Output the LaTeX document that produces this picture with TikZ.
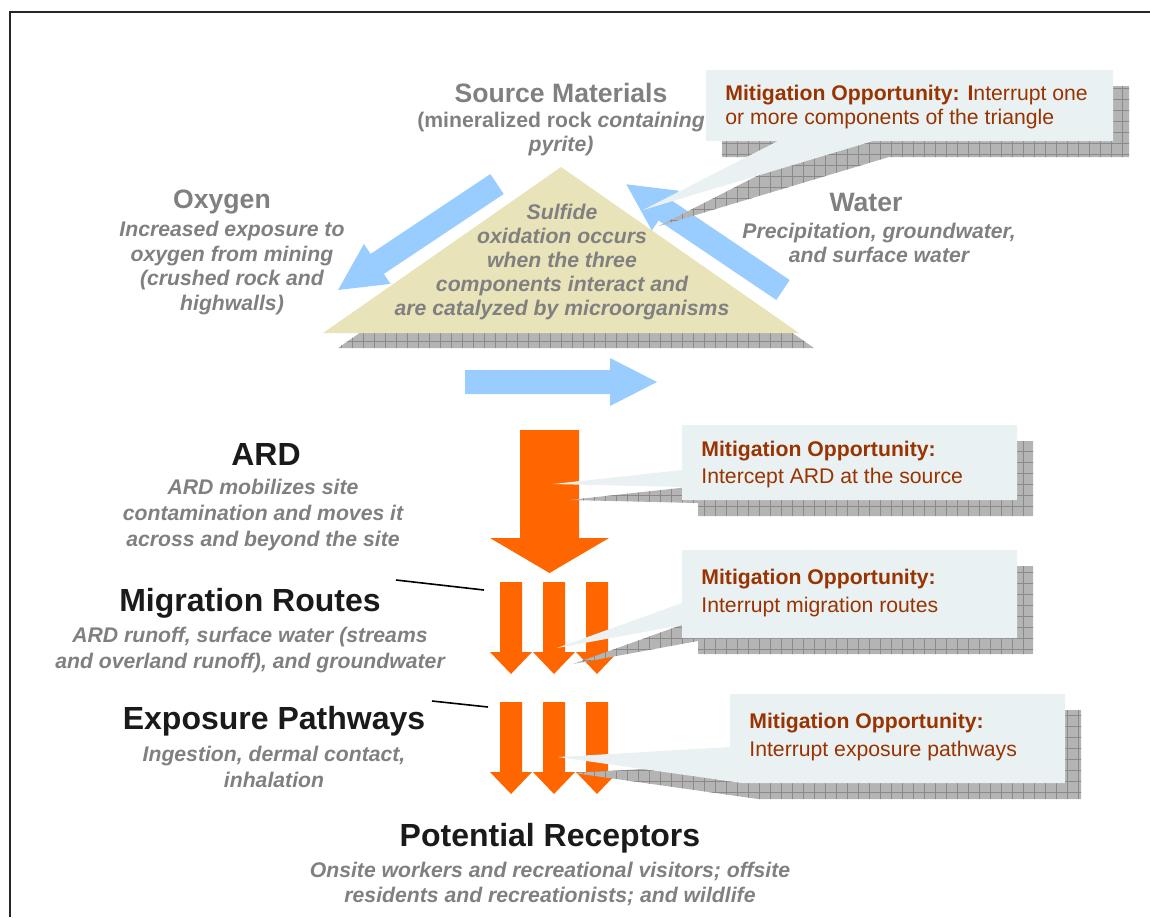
\documentclass[tikz,border=0pt]{standalone}
\usepackage{fontspec}
\setmainfont{Liberation Sans}
\usepackage{xcolor}
\usepackage{tikz}

\definecolor{greytext}{HTML}{808080}
\definecolor{darktext}{HTML}{1A1A1A}
\definecolor{mitbrown}{HTML}{993300}
\definecolor{calloutfill}{HTML}{EAF1F3}
\definecolor{trifill}{HTML}{E9E3BA}
\definecolor{ardorange}{HTML}{FF6600}
\definecolor{arrowblue}{HTML}{99CCFF}
\definecolor{shadowfill}{HTML}{B4B4B4}
\definecolor{shadowline}{HTML}{8A8A8A}

\tikzset{
    heading/.style = {inner sep=0, font=\bfseries\fontsize{13.3}{15}\selectfont, text=greytext},
    bigheading/.style = {inner sep=0, font=\bfseries\fontsize{16}{19}\selectfont, text=darktext},
    subtext/.style = {inner sep=0, align=center, text=greytext,
        font=\bfseries\itshape\fontsize{10.6}{12.4}\selectfont},
    mittext/.style = {inner sep=0, align=left, anchor=west, text=mitbrown,
        font=\fontsize{10.6}{13.5}\selectfont}
}

% grey grid shadow under a shape
\newcommand{\gridshadow}[1]{%
    \begin{scope}
        \clip #1;
        \fill[shadowfill] (0,917) rectangle (1150,0);
        \draw[shadowline, line width=0.3pt, step=5.5pt] (0,917) grid (1150,0);
    \end{scope}}

\begin{document}
\begin{tikzpicture}[x=0.5pt, y=-0.5pt]
        \useasboundingbox (0,0) rectangle (1150,917);
        \draw[line width=1pt, black!85] (10,917) -- (10,12) -- (1150,12);

        % triangle
        \gridshadow{[shift={(15,15)}] (323,333) -- (561,167) -- (799,333) -- cycle}
        \fill[trifill] (323,333) -- (561,167) -- (799,333) -- cycle;

        % blue arrows
        \begin{scope}[shift={(497,184)}, rotate=213.7]
            \fill[arrowblue] (0,-12) -- (144,-12) -- (144,-24) -- (191,0)
                -- (144,24) -- (144,12) -- (0,12) -- cycle;
        \end{scope}
        \begin{scope}[shift={(783,290)}, rotate=146]
            \fill[arrowblue] (0,-12) -- (142,-12) -- (142,-24) -- (189,0)
                -- (142,24) -- (142,12) -- (0,12) -- cycle;
        \end{scope}
        \fill[arrowblue] (465,370) -- (610,370) -- (610,358) -- (657,382)
            -- (610,406) -- (610,394) -- (465,394) -- cycle;

        % orange arrows
        \fill[ardorange] (520,430) -- (579,430) -- (579,538) -- (609,538)
            -- (549.5,573) -- (490,538) -- (520,538) -- cycle;
        \foreach \cx in {511,554,597} {
            \fill[ardorange] (\cx-11,582) -- (\cx+11,582) -- (\cx+11,652) -- (\cx+21,652)
                -- (\cx,674) -- (\cx-21,652) -- (\cx-11,652) -- cycle;
            \fill[ardorange] (\cx-11,702) -- (\cx+11,702) -- (\cx+11,772) -- (\cx+21,772)
                -- (\cx,794) -- (\cx-21,772) -- (\cx-11,772) -- cycle;
        }

        % callouts
        \gridshadow{[shift={(16,16)}] (706,70) -- (1113,70) -- (1113,141) -- (873,141)
            -- (643,210) -- (778,141) -- (706,141) -- cycle}
        \fill[calloutfill] (706,70) -- (1113,70) -- (1113,141) -- (873,141)
            -- (643,210) -- (778,141) -- (706,141) -- cycle;

        \gridshadow{[shift={(16,16)}] (682,425) -- (1017,425) -- (1017,500) -- (682,500)
            -- (682,487) -- (553,484) -- (682,470) -- cycle}
        \fill[calloutfill] (682,425) -- (1017,425) -- (1017,500) -- (682,500)
            -- (682,487) -- (553,484) -- (682,470) -- cycle;

        \gridshadow{[shift={(16,16)}] (682,550) -- (1017,550) -- (1017,638) -- (682,638)
            -- (682,625) -- (557,648) -- (682,603) -- cycle}
        \fill[calloutfill] (682,550) -- (1017,550) -- (1017,638) -- (682,638)
            -- (682,625) -- (557,648) -- (682,603) -- cycle;

        \gridshadow{[shift={(16,16)}] (730,694) -- (1065,694) -- (1065,783) -- (742,783)
            -- (558,757) -- (730,747) -- cycle}
        \fill[calloutfill] (730,694) -- (1065,694) -- (1065,783) -- (742,783)
            -- (558,757) -- (730,747) -- cycle;

        % labels
        \node[heading] (source) at (561,93) {Source Materials};
        \node[subtext] (sourcesub) at (561,134)
            {\upshape(mineralized rock \itshape containing\\pyrite)};
        \node[heading] (oxygen) at (222,202) {Oxygen};
        \node[subtext] (oxygensub) at (232,268)
            {Increased exposure to\\oxygen from mining\\(crushed rock and\\highwalls)};
        \node[heading] (water) at (866,202) {Water};
        \node[subtext] (watersub) at (879,243)
            {Precipitation, groundwater,\\and surface water};
        \node[subtext, font=\bfseries\itshape\fontsize{10.6}{11.9}\selectfont] (sulfide) at (562,262)
            {Sulfide\\oxidation occurs\\when the three\\components interact and\\are catalyzed by microorganisms};

        \node[bigheading] (ard) at (266,454) {ARD};
        \node[subtext, font=\bfseries\itshape\fontsize{10.6}{13.2}\selectfont] (ardsub) at (263,515)
            {ARD mobilizes site\\contamination and moves it\\across and beyond the site};
        \node[bigheading] (migration) at (250,603) {Migration Routes};
        \node[subtext, font=\bfseries\itshape\fontsize{10.6}{13}\selectfont] (migrationsub) at (250,650)
            {ARD runoff, surface water (streams\\and overland runoff), and groundwater};
        \node[bigheading] (exposure) at (274,721) {Exposure Pathways};
        \node[subtext, font=\bfseries\itshape\fontsize{10.6}{13}\selectfont] (exposuresub) at (274,767)
            {Ingestion, dermal contact,\\inhalation};
        \node[bigheading] (receptors) at (550,838) {Potential Receptors};
        \node[subtext] (receptorssub) at (550,884)
            {Onsite workers and recreational visitors; offsite\\residents and recreationists; and wildlife};

        \node[mittext, font=\fontsize{10.6}{12.2}\selectfont] (mit1) at (725,107)
            {\textbf{Mitigation Opportunity: I}nterrupt one\\or more components of the triangle};
        \node[mittext] (mit2) at (701,465)
            {\textbf{Mitigation Opportunity:}\\Intercept ARD at the source};
        \node[mittext, font=\fontsize{10.6}{14.4}\selectfont] (mit3) at (701,593)
            {\textbf{Mitigation Opportunity:}\\Interrupt migration routes};
        \node[mittext, font=\fontsize{10.6}{14}\selectfont] (mit4) at (749,737)
            {\textbf{Mitigation Opportunity:}\\Interrupt exposure pathways};

        % leader lines
        \coordinate (migstart) at (396,580);
        \coordinate (migend) at (484,590);
        \coordinate (expstart) at (432,701);
        \coordinate (expend) at (488,707);
        \draw[line width=0.8pt] (migstart) -- (migend);
        \draw[line width=0.8pt] (expstart) -- (expend);
    \end{tikzpicture}
\end{document}
